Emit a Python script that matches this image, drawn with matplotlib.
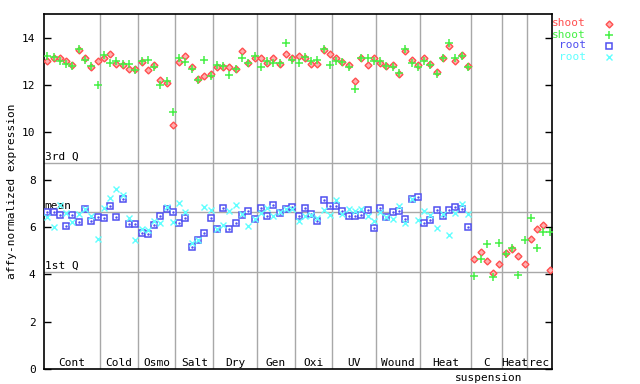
import matplotlib
matplotlib.use("Agg")
import matplotlib.pyplot as plt
from matplotlib.lines import Line2D
import numpy as np

# sample groups (name, number of samples)
groups = ["Cont", "Cold", "Osmo", "Salt", "Dry", "Gen", "Oxi", "UV", "Wound", "Heat", "C", "Heat", "rec"]
group_sizes = [9, 6, 6, 6, 7, 6, 6, 7, 7, 8, 5, 4, 4]

shoot_red = [13.03, 13.12, 13.12, 13.03, 12.86, 13.50, 13.16, 12.74, 13.03,
             13.16, 13.33, 12.90, 12.86, 12.69, 12.69,
             12.99, 12.65, 12.86, 12.23, 12.10, 10.29,
             12.99, 13.24, 12.74, 12.27, 12.40, 12.48,
             12.78, 12.78, 12.74, 12.69, 13.45, 12.95, 13.12,
             13.16, 12.95, 13.12, 12.90, 13.33, 13.12,
             13.24, 13.16, 12.90, 12.90, 13.47, 13.30,
             13.12, 12.99, 12.86, 12.15, 13.16, 12.86, 13.16,
             12.95, 12.82, 12.86, 12.48, 13.44, 13.07, 12.86,
             13.12, 12.90, 12.57, 13.12, 13.66, 13.03, 13.28, 12.82,
             4.64, 4.93, 4.55, 4.07, 4.43,
             4.89, 5.06, 4.77, 4.43,
             5.48, 5.90, 6.07, 4.17]

shoot_green = [13.24, 13.20, 13.03, 12.90, 12.82, 13.54, 13.07, 12.82, 11.98,
               13.28, 12.95, 13.03, 12.90, 12.90, 12.65,
               13.03, 13.07, 12.74, 11.98, 12.19, 10.84,
               13.12, 12.99, 12.69, 12.23, 13.07, 12.40,
               12.86, 12.82, 12.44, 12.69, 13.16, 12.95, 13.24,
               12.78, 13.03, 12.95, 12.95, 13.79, 13.07,
               12.95, 13.20, 13.03, 13.07, 13.52, 12.86,
               13.03, 12.99, 12.78, 11.85, 13.16, 13.12, 13.03,
               13.03, 12.82, 12.78, 12.52, 13.52, 12.95, 12.78,
               13.03, 12.86, 12.48, 13.16, 13.79, 13.16, 13.24, 12.74,
               3.92, 4.64, 5.27, 3.88, 5.31,
               4.85, 5.10, 3.96, 5.44,
               6.37, 5.10, 5.78, 5.78]

# root samples only exist up to the Heat group
root_blue = [6.62, 6.62, 6.50, 6.03, 6.50, 6.20, 6.75, 6.24, 6.41,
             6.37, 6.87, 6.41, 7.17, 6.12, 6.12,
             5.74, 5.69, 6.07, 6.45, 6.75, 6.62,
             6.16, 6.37, 5.15, 5.44, 5.74, 6.37,
             5.90, 6.79, 5.90, 6.16, 6.50, 6.66, 6.33,
             6.79, 6.45, 6.92, 6.58, 6.75, 6.83,
             6.45, 6.79, 6.54, 6.24, 7.13, 6.87,
             6.87, 6.66, 6.45, 6.45, 6.50, 6.71, 5.95,
             6.79, 6.41, 6.62, 6.66, 6.33, 7.17, 7.25,
             6.16, 6.28, 6.71, 6.45, 6.71, 6.83, 6.75, 6.00]

root_cyan = [6.41, 5.99, 6.92, 6.58, 6.20, 6.54, 6.75, 6.45, 5.48,
             6.79, 7.21, 7.59, 7.34, 6.37, 5.44,
             5.90, 5.86, 6.24, 6.16, 6.83, 6.20,
             7.00, 6.62, 5.31, 5.44, 6.83, 6.71,
             5.90, 6.07, 6.66, 6.92, 6.54, 6.03, 6.33,
             6.58, 6.79, 6.45, 6.62, 6.75, 6.75,
             6.24, 6.45, 6.50, 6.37, 6.71, 6.50,
             7.13, 6.54, 6.75, 6.66, 6.75, 6.45, 6.24,
             6.62, 6.41, 6.33, 6.87, 6.16, 7.17, 6.28,
             6.66, 6.50, 5.95, 6.54, 5.65, 6.58, 6.96, 6.54]

quartiles = {"3rd Q": 8.69, "mean": 6.62, "1st Q": 4.09}

RED = "#ff5050"
GREEN = "#44f044"
BLUE = "#5050f0"
CYAN = "#60ffff"
GRID = "#a8a8a8"
FONT = "DejaVu Sans Mono"

plt.rcParams["font.family"] = FONT
fig = plt.figure(figsize=(6.4, 3.84), dpi=100)
ax = fig.add_axes([44 / 640, 15 / 384, 508 / 640, 355 / 384])

n = sum(group_sizes)
x_all = np.arange(n)
x_root = np.arange(len(root_blue))

# group separators and quartile lines
bounds = np.cumsum(group_sizes)
for b in bounds[:-1]:
    ax.axvline(b - 0.6, color=GRID, lw=1, zorder=1)
for name, val in quartiles.items():
    ax.axhline(val, color=GRID, lw=1, zorder=1)
    ax.text(-0.45, val + 0.05, name, fontsize=8, ha="left", va="bottom", zorder=2)

ax.plot(x_all, shoot_red, ls="none", marker="D", ms=3.5, mfc="#ffb0b0", mec=RED, mew=1, zorder=3)
ax.plot(x_all, shoot_green, ls="none", marker="+", ms=6, mec=GREEN, mew=1.1, zorder=4)
ax.plot(x_root, root_blue, ls="none", marker="s", ms=4.5, mfc="white", mec=BLUE, mew=1.1, zorder=3)
ax.plot(x_root, root_blue, ls="none", marker=".", ms=1.5, color=BLUE, zorder=3)
ax.plot(x_root, root_cyan, ls="none", marker="x", ms=4.5, mec=CYAN, mew=1, zorder=4)

ax.set_xlim(-0.53, 80.37)
ax.set_ylim(0, 15)
ax.set_yticks(np.arange(0, 15, 2))
ax.set_xticks([])
ax.tick_params(axis="y", direction="in", length=5, width=1, right=True, labelsize=8, pad=6)
for s in ax.spines.values():
    s.set_linewidth(1.2)
ax.set_ylabel("affy-normalized expression", fontsize=8, labelpad=4)

# group labels
starts = np.concatenate([[-0.6], bounds[:-1] - 0.6])
ends = np.concatenate([bounds[:-1] - 0.6, [80.37]])
for g, s0, e0 in zip(groups, starts, ends):
    ax.text((s0 + e0) / 2, 0.05, g, fontsize=8, ha="center", va="bottom")
ax.text((starts[10] + ends[10]) / 2 + 0.4, -0.15, "suspension", fontsize=8, ha="center", va="top")

# legend drawn outside the axes at top right
legend = [("shoot", RED, dict(marker="D", ms=3.5, mfc="#ffb0b0", mec=RED, mew=1)),
          ("shoot", GREEN, dict(marker="+", ms=6, mec=GREEN, mew=1.1)),
          ("root", BLUE, dict(marker="s", ms=4.5, mfc="white", mec=BLUE, mew=1.1)),
          ("root", CYAN, dict(marker="x", ms=4.5, mec=CYAN, mew=1))]
for k, (lab, col, kw) in enumerate(legend):
    yy = 1 - (23.5 + 11 * k) / 384
    fig.text(586 / 640, yy, lab, color=col, fontsize=8, ha="right", va="center")
    fig.add_artist(Line2D([609 / 640], [yy], ls="none", transform=fig.transFigure, **kw))

fig.savefig("out.png", dpi=100)
